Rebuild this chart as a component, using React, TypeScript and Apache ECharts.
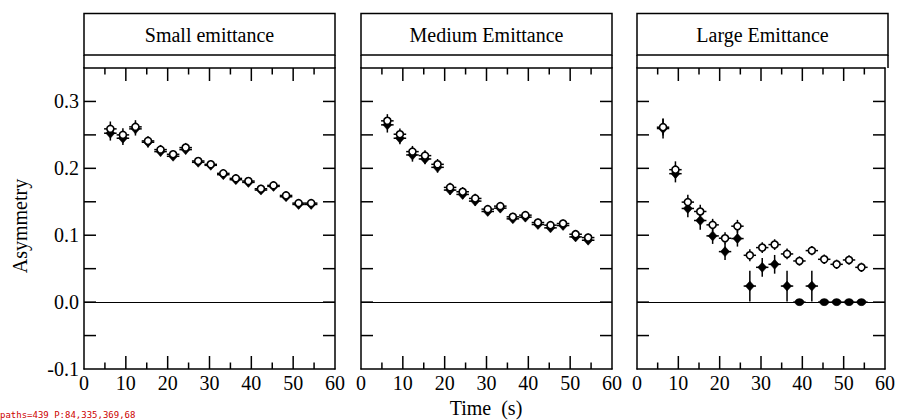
import React, { useEffect, useRef } from "react";
import * as echarts from "echarts";

// ---- data ----
const times = [6.3, 9.3, 12.3, 15.3, 18.3, 21.3, 24.3, 27.3, 30.3, 33.3, 36.3, 39.3, 42.3, 45.3, 48.3, 51.3, 54.3];
const binHalfWidth = 1.5;
const panelTitles = ["Small emittance", "Medium Emittance", "Large Emittance"];

const smallFilled = [0.2525, 0.245, 0.259, 0.239, 0.225, 0.218, 0.228, 0.209, 0.2045, 0.1905, 0.183, 0.179, 0.1675, 0.173, 0.1575, 0.146, 0.146];
const smallOpen = [0.259, 0.25, 0.262, 0.241, 0.228, 0.221, 0.231, 0.211, 0.206, 0.1925, 0.185, 0.181, 0.1695, 0.1745, 0.1595, 0.148, 0.148];
const smallFilledErr = [0.011, 0.01, 0.01, 0.008, 0.007, 0.006, 0.007, 0.006, 0.006, 0.006, 0.006, 0.006, 0.006, 0.006, 0.006, 0.006, 0.006];
const smallOpenErr = [0.011, 0.01, 0.01, 0.007, 0.007, 0.006, 0.007, 0.006, 0.006, 0.006, 0.006, 0.006, 0.006, 0.006, 0.006, 0.006, 0.006];

const mediumFilled = [0.265, 0.245, 0.22, 0.214, 0.2015, 0.1675, 0.161, 0.151, 0.1355, 0.1405, 0.1245, 0.127, 0.116, 0.111, 0.1145, 0.0975, 0.0925];
const mediumOpen = [0.271, 0.251, 0.225, 0.219, 0.206, 0.1715, 0.165, 0.155, 0.139, 0.1435, 0.1275, 0.13, 0.119, 0.115, 0.1175, 0.1015, 0.0965];
const mediumFilledErr = [0.0115, 0.009, 0.01, 0.008, 0.008, 0.007, 0.007, 0.007, 0.006, 0.006, 0.006, 0.006, 0.006, 0.006, 0.006, 0.006, 0.006];
const mediumOpenErr = [0.01, 0.0085, 0.0085, 0.008, 0.008, 0.007, 0.007, 0.007, 0.006, 0.006, 0.006, 0.006, 0.006, 0.006, 0.006, 0.006, 0.006];

const largeFilled = [0.2595, 0.192, 0.14, 0.122, 0.099, 0.0755, 0.095, 0.024, 0.052, 0.0565, 0.024, 0.0, 0.024, 0.0, 0.0, 0.0, 0.0];
const largeOpen = [0.2615, 0.198, 0.1495, 0.1355, 0.1155, 0.0955, 0.1135, 0.07, 0.0815, 0.086, 0.072, 0.0615, 0.077, 0.064, 0.0565, 0.063, 0.052];
const largeFilledErr = [0.015, 0.013, 0.013, 0.014, 0.012, 0.0125, 0.012, 0.023, 0.014, 0.014, 0.023, 0, 0.023, 0, 0, 0, 0];
const largeOpenErr = [0.0125, 0.0125, 0.011, 0.01, 0.009, 0.009, 0.0095, 0.009, 0.008, 0.008, 0.008, 0.007, 0.007, 0.007, 0.007, 0.007, 0.007];

// axis ranges and tick values
const xRange = [0, 60];
const yRange = [-0.1, 0.35];
const xMajorTicks = [10, 20, 30, 40, 50];
const xMinorTicks = [5, 15, 25, 35, 45, 55];
const yTicks = [-0.05, 0, 0.05, 0.1, 0.15, 0.2, 0.25, 0.3];

const panels = [
  { filled: smallFilled, open: smallOpen, filledErr: smallFilledErr, openErr: smallOpenErr },
  { filled: mediumFilled, open: mediumOpen, filledErr: mediumFilledErr, openErr: mediumOpenErr },
  { filled: largeFilled, open: largeOpen, filledErr: largeFilledErr, openErr: largeOpenErr },
];

// ---- layout ----
const FONT = "'Liberation Serif', 'Times New Roman', serif";
const panelLefts = [84, 361, 637];
const panelWidth = 251;
const plotTop = 68;
const plotHeight = 301;
const boxTop = 13.5;
const boxMid = 55;
const MAJOR_LEN = 13;
const MINOR_LEN = 6.5;
const Y_LEN = 12;

export default function App() {
  const ref = useRef<HTMLDivElement>(null);

  useEffect(() => {
    if (!ref.current) return;
    const logs: string[] = [];
    const origWarn = console.warn;
    const origErr = console.error;
    console.warn = (...a: any[]) => { logs.push("W:" + a.map(String).join(" ")); origWarn(...a); };
    console.error = (...a: any[]) => { logs.push("E:" + a.map(String).join(" ")); origErr(...a); };
    const onErr = (ev: any) => logs.push("U:" + (ev && ev.message));
    window.addEventListener("error", onErr);

    const chart = echarts.init(ref.current, null, { renderer: "svg" });

    const grids: any[] = [];
    const xAxes: any[] = [];
    const yAxes: any[] = [];
    const series: any[] = [];
    const graphics: any[] = [];

    const lineStyle = { color: "#000", width: 1.5 };

    panels.forEach((p, i) => {
      grids.push({ left: panelLefts[i], top: plotTop, width: panelWidth, height: plotHeight });
      const xBase = {
        type: "value",
        gridIndex: i,
        min: xRange[0],
        max: xRange[1],
        interval: 10,
        splitLine: { show: false },
        axisLine: { show: true, onZero: false, lineStyle },
        axisTick: { show: false },
      };
      xAxes.push({
        ...xBase,
        position: "bottom",
        axisLabel: { show: true, margin: 4, fontFamily: FONT, fontSize: 20, color: "#000" },
      });
      xAxes.push({ ...xBase, position: "top", axisLabel: { show: false } });

      const yBase = {
        type: "value",
        gridIndex: i,
        min: yRange[0],
        max: yRange[1],
        interval: 0.05,
        splitLine: { show: false },
        axisLine: { show: true, onZero: false, lineStyle },
        axisTick: { show: false },
      };
      yAxes.push({
        ...yBase,
        position: "left",
        axisLabel: {
          show: i === 0,
          margin: 5,
          fontFamily: FONT,
          fontSize: 20,
          color: "#000",
          formatter: (v: number) => {
            const k = Math.round(v * 20);
            return k % 2 === 0 ? (k / 20).toFixed(1) : "";
          },
        },
      });
      yAxes.push({ ...yBase, position: "right", axisLabel: { show: false } });

      const errData: any[] = [];
      times.forEach((t, j) => {
        errData.push([t, p.filled[j], p.filledErr[j], binHalfWidth]);
        errData.push([t, p.open[j], p.openErr[j], binHalfWidth]);
      });

      series.push({
        type: "custom",
        xAxisIndex: 2 * i,
        yAxisIndex: 2 * i,
        data: errData,
        encode: { x: 0, y: 1 },
        z: 2,
        silent: true,
        renderItem: (params: any, api: any) => {
          const x = api.value(0);
          const y = api.value(1);
          const e = api.value(2);
          const hx = api.value(3);
          const top = api.coord([x, y + e]);
          const bot = api.coord([x, y - e]);
          const l = api.coord([x - hx, y]);
          const r = api.coord([x + hx, y]);
          const style = { stroke: "#000", lineWidth: 1.5 };
          const children: any[] = [
            { type: "line", shape: { x1: l[0], y1: l[1], x2: r[0], y2: r[1] }, style },
          ];
          if (e > 0) {
            children.push({ type: "line", shape: { x1: top[0], y1: top[1], x2: bot[0], y2: bot[1] }, style });
          }
          return { type: "group", children };
        },
        markLine: {
          silent: true,
          symbol: "none",
          label: { show: false },
          lineStyle: { color: "#000", width: 1.2, type: "solid" },
          data: [{ yAxis: 0 }],
        },
      });

      series.push({
        type: "scatter",
        xAxisIndex: 2 * i,
        yAxisIndex: 2 * i,
        z: 3,
        silent: true,
        data: times.map((t, j) =>
          p.filled[j] === 0
            ? { value: [t, p.filled[j]], symbol: "circle", symbolSize: [9, 7] }
            : { value: [t, p.filled[j]] }
        ),
        symbol: "diamond",
        symbolSize: [9, 10],
        itemStyle: { color: "#000", borderColor: "#000", borderWidth: 0.5, opacity: 1 },
      });

      series.push({
        type: "scatter",
        xAxisIndex: 2 * i,
        yAxisIndex: 2 * i,
        z: 4,
        silent: true,
        data: times.map((t, j) => [t, p.open[j]]),
        symbol: "circle",
        symbolSize: 7,
        itemStyle: { color: "#fff", borderColor: "#000", borderWidth: 1.6, opacity: 1 },
      });

      graphics.push({
        type: "rect",
        shape: { x: panelLefts[i], y: boxTop, width: panelWidth, height: boxMid - boxTop },
        style: { fill: "#fff", stroke: "#000", lineWidth: 1.5 },
      });
      graphics.push({
        type: "polyline",
        shape: { points: [[panelLefts[i], boxMid], [panelLefts[i], plotTop]] },
        style: { stroke: "#000", lineWidth: 1.5, fill: null },
      });
      graphics.push({
        type: "polyline",
        shape: { points: [[panelLefts[i] + panelWidth, boxMid], [panelLefts[i] + panelWidth, plotTop]] },
        style: { stroke: "#000", lineWidth: 1.5, fill: null },
      });
      graphics.push({
        type: "text",
        x: panelLefts[i] + panelWidth / 2,
        y: (boxTop + boxMid) / 2 + 1,
        style: { text: panelTitles[i], fontFamily: FONT, fontSize: 20, fill: "#000", align: "center", verticalAlign: "middle" },
      });
    });

    graphics.push({
      type: "text",
      x: (panelLefts[0] + panelLefts[2] + panelWidth) / 2,
      y: 408,
      style: { text: "Time  (s)", fontFamily: FONT, fontSize: 20, fill: "#000", align: "center", verticalAlign: "middle" },
    });
    graphics.push({
      type: "text",
      x: 20,
      y: 226,
      rotation: Math.PI / 2,
      style: { text: "Asymmetry", fontFamily: FONT, fontSize: 20, fill: "#000", align: "center", verticalAlign: "middle" },
    });

    try {
      chart.setOption({ animation: false, grid: grids, xAxis: xAxes, yAxis: yAxes, series, graphic: graphics });
    } catch (e: any) {
      logs.push("S1:" + (e && e.message));
    }

    // inward tick marks on all four sides, placed through the axes' scales
    try {
      const ticks: any[] = [];
      const tickStyle = { stroke: "#000", lineWidth: 1.5 };
      panels.forEach((_, i) => {
        const xi = { xAxisIndex: 2 * i };
        const yi = { yAxisIndex: 2 * i };
        const yB = chart.convertToPixel(yi, yRange[0]) as number;
        const yT = chart.convertToPixel(yi, yRange[1]) as number;
        const xL = chart.convertToPixel(xi, xRange[0]) as number;
        const xR = chart.convertToPixel(xi, xRange[1]) as number;
        const addX = (v: number, len: number) => {
          const px = chart.convertToPixel(xi, v) as number;
          ticks.push({ type: "line", z: 100, shape: { x1: px, y1: yB, x2: px, y2: yB - len }, style: tickStyle });
          ticks.push({ type: "line", z: 100, shape: { x1: px, y1: yT, x2: px, y2: yT + len }, style: tickStyle });
        };
        xMajorTicks.forEach((v) => addX(v, MAJOR_LEN));
        xMinorTicks.forEach((v) => addX(v, MINOR_LEN));
        yTicks.forEach((v) => {
          const py = chart.convertToPixel(yi, v) as number;
          ticks.push({ type: "line", z: 100, shape: { x1: xL, y1: py, x2: xL + Y_LEN, y2: py }, style: tickStyle });
          ticks.push({ type: "line", z: 100, shape: { x1: xR, y1: py, x2: xR - Y_LEN, y2: py }, style: tickStyle });
        });
        if (i === 0) logs.push(`P:${xL},${xR},${yB},${yT}`);
      });
      chart.setOption({ graphic: [...graphics, ...ticks] });
    } catch (e: any) {
      logs.push("S2:" + (e && e.message));
    }

    const dbg = document.createElement("div");
    dbg.style.cssText =
      "position:absolute;left:0;bottom:0;font:9px monospace;color:#c00;white-space:pre-wrap;width:898px;pointer-events:none";
    const report = () => {
      const svg = ref.current ? ref.current.querySelector("svg") : null;
      const n = svg ? svg.querySelectorAll("path").length : -1;
      dbg.textContent = `paths=${n} ` + logs.join(" | ").slice(0, 600);
    };
    report();
    document.body.appendChild(dbg);
    const tm = setTimeout(report, 300);

    return () => {
      clearTimeout(tm);
      window.removeEventListener("error", onErr);
      console.warn = origWarn;
      console.error = origErr;
      if (dbg.parentNode) dbg.parentNode.removeChild(dbg);
      chart.dispose();
    };
  }, []);

  return (
    <div
      ref={ref}
      style={{ position: "absolute", left: 0, top: 0, width: 898, height: 420, background: "#fff" }}
    />
  );
}
